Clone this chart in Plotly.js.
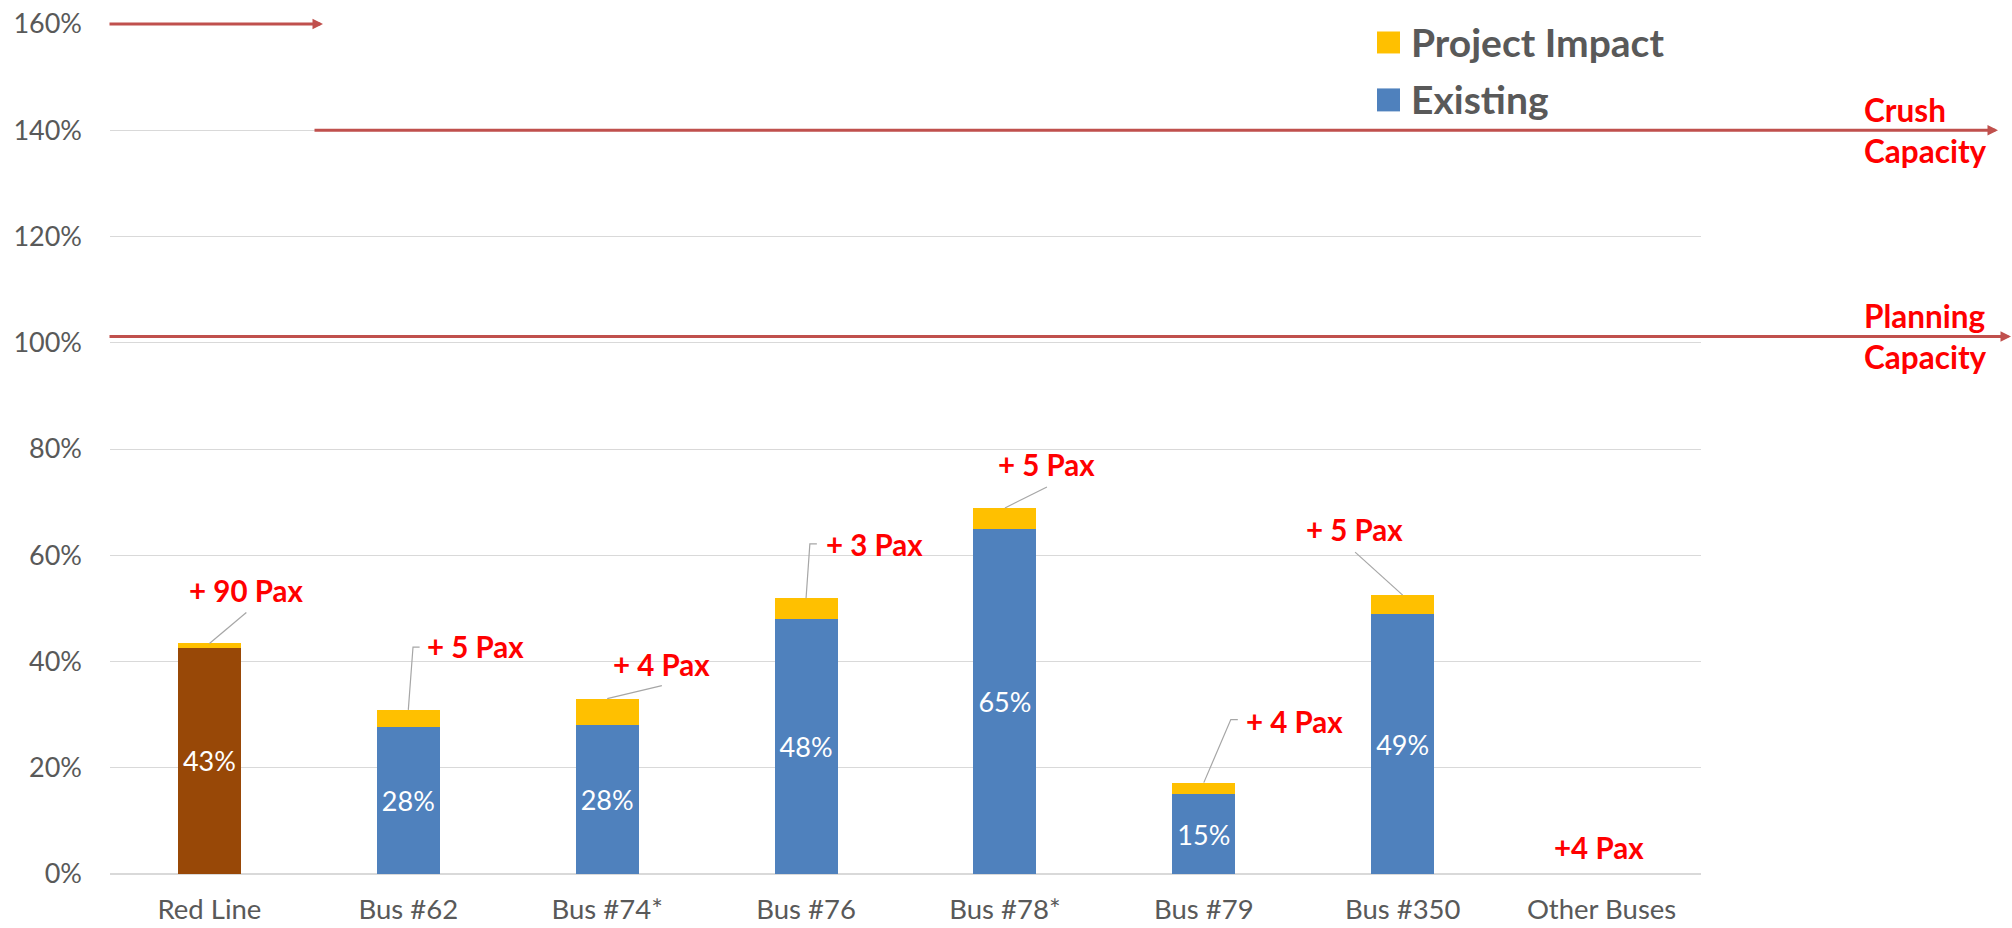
<!DOCTYPE html>
<html><head><meta charset="utf-8">
<script src="https://cdn.plot.ly/plotly-3.0.1.min.js"></script>
<style>html,body{margin:0;padding:0;background:#fff}#chart{width:2012px;height:928px}</style>
</head><body><div id="chart"></div>
<script>
// ---------- data ----------
const categories = ['Red Line','Bus #62','Bus #74*','Bus #76','Bus #78*','Bus #79','Bus #350','Other Buses'];
const existing   = [42.6, 27.7, 28.0, 48.0, 65.0, 15.0, 48.9, 0];
const impact     = [0.8, 3.2, 5.0, 3.9, 3.9, 2.2, 3.6, 0];
const paxLabels  = ['+ 90 Pax','+ 5 Pax','+ 4 Pax','+ 3 Pax','+ 5 Pax','+ 4 Pax','+ 5 Pax','+4 Pax'];
const seriesNames = ['Existing','Project Impact'];
const capacityNames  = ['Crush<br>Capacity','Planning<br>Capacity'];
const capacityLevels = [140, 101.2];
const topMarkerLevel = 160;
const yTickValues = [0,20,40,60,80,100,120,140,160];

// ---------- layout / style config ----------
const W=2012, H=928, ML=110, MR=311, MT=23.5, MB=53.5;
const PW=W-ML-MR, PH=H-MT-MB;
const px2paperX = p => (p-ML)/PW;
const px2paperY = p => (H-MB-p)/PH;
const FONT='Lato, "Open Sans", sans-serif';
const blue='#4F81BD', yellow='#FFC000', brown='#984807', arrowRed='#C0504D', textRed='#FF0000', grey='#595959';

const existingColors = categories.map((c,i)=> i===0 ? brown : blue);

// label offsets (pixels) relative to bar centre / bar top
const labelCfg = [
 {dx:36.5, up:52.7, anchor:'center', path:[[0,0],[36.9,31]]},
 {dx:17,   up:63,   anchor:'left',   path:[[0,0],[4.7,62.8],[11.3,62.8]]},
 {dx:54.2, up:34,   anchor:'center', path:[[0,0],[54.7,13]]},
 {dx:17.8, up:54,   anchor:'left',   path:[[0,0],[3.8,54.4],[10.8,54.4]]},
 {dx:42,   up:43,   anchor:'center', path:[[0,0],[42,21]]},
 {dx:40.5, up:61.3, anchor:'left',   path:[[0,0],[27,63],[34,63]]},
 {dx:-48.5,up:65.3, anchor:'center', path:[[0,0],[-47.6,43]]},
 {dx:-3,   up:26.5, anchor:'center', path:null}
];

const traces = [
 {type:'bar', name:seriesNames[0], x:categories, y:existing,
  marker:{color:existingColors, line:{width:0}},
  text: existing.map(v=> v>0 ? Math.round(v)+'%' : ''),
  textposition:'inside', insidetextanchor:'middle', constraintext:'none',
  textfont:{family:FONT, size:27, color:'#FFFFFF'}, hoverinfo:'skip'},
 {type:'bar', name:seriesNames[1], x:categories, y:impact,
  marker:{color:yellow, line:{width:0}}, textposition:'none', hoverinfo:'skip'}
];

const annotations = [], shapes = [];
const totals = existing.map((v,i)=> v+impact[i]);

categories.forEach((c,i)=>{
  const cfg = labelCfg[i];
  annotations.push({xref:'x', yref:'y', x:i, y:totals[i], xshift:cfg.dx, yshift:cfg.up,
    xanchor:cfg.anchor, yanchor:'middle', showarrow:false, text:'<b>'+paxLabels[i]+'</b>',
    font:{family:FONT, size:29.5, color:textRed}});
  if(cfg.path){
    const d = cfg.path.map((p,k)=> (k===0?'M':'L')+p[0]+','+p[1]).join('');
    shapes.push({type:'path', xref:'x', yref:'y', xsizemode:'pixel', ysizemode:'pixel',
      xanchor:i, yanchor:totals[i], path:d, line:{color:'#A6A6A6', width:1.2}});
  }
});

// capacity arrows
const arrows = [
  {y:topMarkerLevel,    tail:108, head:323},
  {y:capacityLevels[0], tail:313, head:1998},
  {y:capacityLevels[1], tail:108, head:2024}
];
arrows.forEach(a=>{
  annotations.push({xref:'paper', yref:'y', x:px2paperX(a.head), y:a.y, text:'',
    showarrow:true, axref:'pixel', ayref:'pixel', ax:a.tail-a.head, ay:0,
    arrowhead:2, arrowsize:0.7, arrowwidth:3, arrowcolor:arrowRed, standoff:0});
});
capacityNames.forEach((t,i)=>{
  annotations.push({xref:'paper', yref:'y', x:px2paperX(1862), y:capacityLevels[i], text:'<b>'+t+'</b>',
    xanchor:'left', yanchor:'middle', align:'left', showarrow:false,
    font:{family:FONT, size:31.5, color:textRed}});
});

// custom legend
const legendRows = [
  {name:seriesNames[1], color:yellow, top:31, bottom:53, cy:42},
  {name:seriesNames[0], color:blue,   top:88, bottom:111, cy:99}
];
legendRows.forEach(r=>{
  shapes.push({type:'rect', xref:'paper', yref:'paper', x0:px2paperX(1377), x1:px2paperX(1400),
    y0:px2paperY(r.bottom), y1:px2paperY(r.top), fillcolor:r.color, line:{width:0}});
  annotations.push({xref:'paper', yref:'paper', x:px2paperX(1409), y:px2paperY(r.cy), text:'<b>'+r.name+'</b>',
    xanchor:'left', yanchor:'middle', showarrow:false, font:{family:FONT, size:39, color:grey}});
});

const layout = {
  width:W, height:H, margin:{l:ML, r:MR, t:MT, b:MB, pad:0},
  paper_bgcolor:'#fff', plot_bgcolor:'#fff', showlegend:false,
  barmode:'stack', bargap:0.683,
  font:{family:FONT, color:grey},
  xaxis:{type:'category', categoryorder:'array', categoryarray:categories, showgrid:false, zeroline:false,
    showline:false, ticks:'', tickfont:{family:FONT, size:27.5, color:grey}, ticklabelstandoff:16, fixedrange:true},
  yaxis:{range:[0,160], tickvals:yTickValues, ticktext:yTickValues.map(v=>v+'%'), showgrid:true,
    gridcolor:'#D9D9D9', gridwidth:1, zeroline:true, zerolinecolor:'#D9D9D9', zerolinewidth:1.5,
    showline:false, ticks:'', tickfont:{family:FONT, size:27, color:grey}, ticklabelstandoff:27, fixedrange:true},
  shapes:shapes, annotations:annotations, hovermode:false
};

Plotly.newPlot('chart', traces, layout, {displayModeBar:false, staticPlot:true});
</script></body></html>
